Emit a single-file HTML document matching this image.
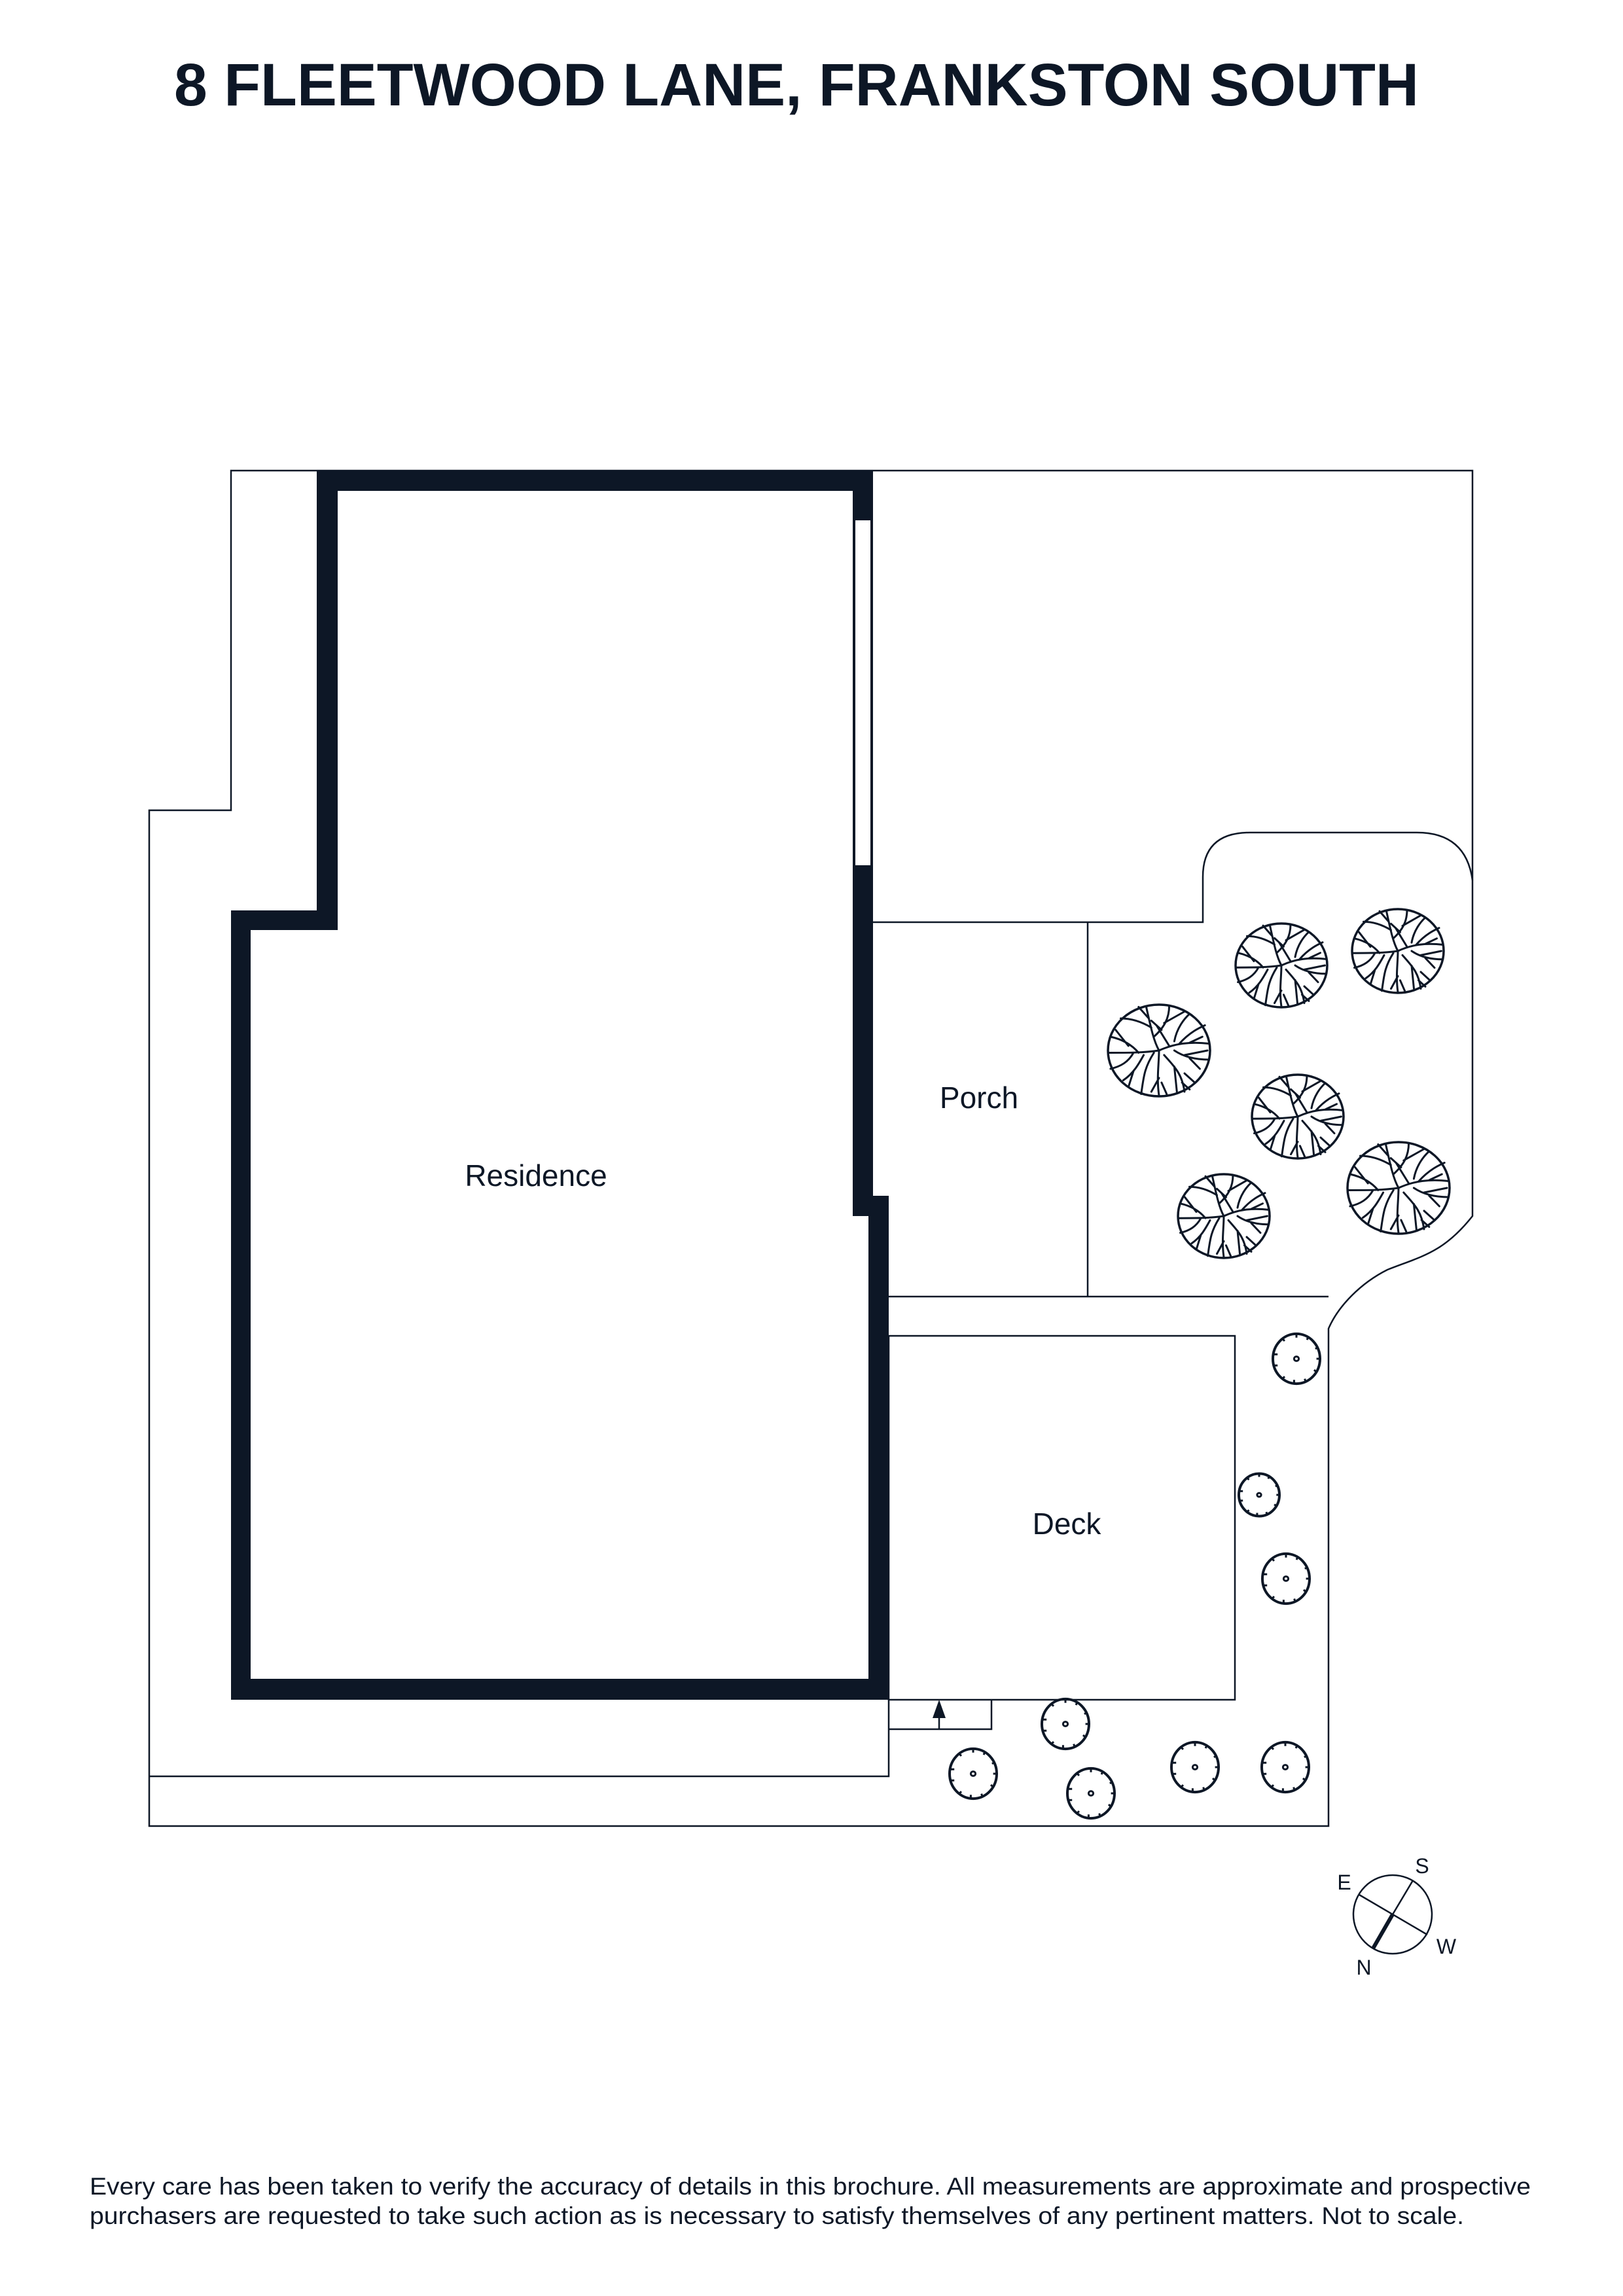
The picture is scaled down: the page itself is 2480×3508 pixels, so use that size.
<!DOCTYPE html>
<html><head><meta charset="utf-8"><style>html,body{margin:0;padding:0;background:#fff}svg{display:block}</style></head>
<body>
<svg width="2480" height="3508" viewBox="0 0 2480 3508" xmlns="http://www.w3.org/2000/svg">
<defs>
<g id="tree" fill="none" stroke="#0d1726" stroke-linecap="round">
<circle cx="0" cy="0" r="1" stroke-width="3.5" vector-effect="non-scaling-stroke"/>
<g stroke-width="3" vector-effect="non-scaling-stroke">
<path vector-effect="non-scaling-stroke" d="M0,0 C-0.1,-0.2 -0.15,-0.45 -0.25,-0.95 M-0.15,-0.5 C-0.3,-0.6 -0.5,-0.7 -0.75,-0.7 M-0.2,-0.7 L-0.4,-0.95 M-0.1,-0.3 C0.1,-0.5 0.2,-0.7 0.2,-0.98 M0.1,-0.6 L0.5,-0.85 M0.05,-0.45 L-0.15,-0.65"/>
<path vector-effect="non-scaling-stroke" d="M0,0 C0.3,-0.15 0.6,-0.2 0.98,-0.15 M0.4,-0.15 C0.6,-0.4 0.8,-0.5 0.9,-0.55 M0.6,-0.17 L0.85,-0.3 M0.3,-0.2 C0.35,-0.5 0.5,-0.7 0.6,-0.8 M0.2,-0.1 L-0.05,-0.55 M0.3,0 C0.5,0.15 0.75,0.2 0.98,0.2 M0.5,0.1 L0.95,0 M0.6,0.17 L0.8,0.4"/>
<path vector-effect="non-scaling-stroke" d="M0,0 C-0.3,0.05 -0.6,0.05 -0.98,0.05 M-0.4,0.05 C-0.55,-0.15 -0.75,-0.25 -0.95,-0.3 M-0.6,-0.1 L-0.85,-0.45 M-0.5,0.05 C-0.6,0.25 -0.75,0.35 -0.95,0.4 M-0.3,0.1 C-0.4,0.3 -0.5,0.5 -0.7,0.65 M-0.1,0.05 C-0.3,0.4 -0.3,0.6 -0.35,0.95 M-0.5,0.45 L-0.6,0.8"/>
<path vector-effect="non-scaling-stroke" d="M0,0 C0,0.3 -0.05,0.6 0,0.98 M0,0.6 L-0.15,0.9 M0.05,0.7 L0.15,0.95 M0.1,0.1 C0.3,0.35 0.45,0.5 0.5,0.9 M0.3,0.35 L0.35,0.9 M0.5,0.5 L0.7,0.7 M0.45,0.7 L0.6,0.85"/>
</g>
</g>
<g id="shrub" fill="none" stroke="#0d1726">
<ellipse cx="0" cy="0" rx="1" ry="1.12" stroke-width="4" vector-effect="non-scaling-stroke"/>
<circle cx="0" cy="0" r="0.1" stroke-width="3" vector-effect="non-scaling-stroke"/>
<path stroke-width="3" vector-effect="non-scaling-stroke" d="M0,-1.12 L0,-0.95 M0.5,-1 L0.45,-0.85 M0.9,-0.5 L0.8,-0.45 M1,0 L0.85,0 M0.85,0.6 L0.75,0.5 M0.4,1.05 L0.35,0.9 M-0.1,1.12 L-0.1,0.95 M-0.6,0.9 L-0.5,0.8 M-0.95,0.3 L-0.8,0.3 M-0.95,-0.2 L-0.8,-0.2 M-0.6,-0.9 L-0.5,-0.8"/>
</g>
</defs>

<text x="266" y="161" font-family="Liberation Sans, Arial, sans-serif" font-weight="bold" font-size="92" fill="#0d1726" textLength="1902" lengthAdjust="spacingAndGlyphs">8 FLEETWOOD LANE, FRANKSTON SOUTH</text>

<g fill="none" stroke="#0d1726" stroke-width="2.5">
<path d="M353,719 L2250,719 L2250,1858 C2205,1915 2170,1920 2120,1940 C2080,1960 2045,1995 2030,2030 L2030,2790 L228,2790 L228,1238 L353,1238 Z"/>
<path d="M228,2714 L1358,2714 L1358,2597"/>
<path d="M1334,1409 L1838,1409 L1838,1340 Q1838,1272 1910,1272 L2165,1272 Q2240,1272 2250,1345"/>
<path d="M1662,1409 L1662,1981"/>
<path d="M1358,1981 L2030,1981"/>
<rect x="1358" y="2041" width="529" height="556"/>
<path d="M1358,2642 L1515,2642 L1515,2597"/>
<path d="M1435,2642 L1435,2620"/>
</g>
<path d="M1435,2597 L1425,2625 L1445,2625 Z" fill="#0d1726"/>

<path fill="#0d1726" fill-rule="evenodd" d="M484,719 L1334,719 L1334,1827 L1358,1827 L1358,2597 L353,2597 L353,1391 L484,1391 Z M516,750 L516,1421 L383,1421 L383,2565 L1327,2565 L1327,1858 L1303,1858 L1303,750 Z"/>
<rect x="1306" y="794" width="25" height="529" fill="#fff" stroke="#0d1726" stroke-width="2"/>

<g font-family="Liberation Sans, Arial, sans-serif" font-size="46" fill="#0d1726" text-anchor="middle">
<text x="819" y="1812">Residence</text>
<text x="1496" y="1693">Porch</text>
<text x="1630" y="2344">Deck</text>
</g>

<use href="#tree" transform="translate(1771,1605) scale(78,70)"/>
<use href="#tree" transform="translate(1958,1475) scale(70,64)"/>
<use href="#tree" transform="translate(2136,1453) scale(70,64)"/>
<use href="#tree" transform="translate(1983,1706) scale(70,64)"/>
<use href="#tree" transform="translate(2137,1815) scale(78,70)"/>
<use href="#tree" transform="translate(1870,1858) scale(70,64)"/>

<use href="#shrub" transform="translate(1981,2076) scale(36,34)"/>
<use href="#shrub" transform="translate(1924,2284) scale(31,29)"/>
<use href="#shrub" transform="translate(1965,2412) scale(36,34)"/>
<use href="#shrub" transform="translate(1628,2634) scale(36,34)"/>
<use href="#shrub" transform="translate(1487,2710) scale(36,34)"/>
<use href="#shrub" transform="translate(1667,2740) scale(36,34)"/>
<use href="#shrub" transform="translate(1826,2700) scale(36,34)"/>
<use href="#shrub" transform="translate(1964,2700) scale(36,34)"/>

<g stroke="#0d1726" fill="none">
<circle cx="2128" cy="2925" r="60" stroke-width="2.5"/>
<line x1="2159" y1="2873" x2="2128" y2="2925" stroke-width="2.5"/>
<line x1="2128" y1="2925" x2="2098" y2="2977" stroke-width="6"/>
<line x1="2077" y1="2895" x2="2181" y2="2956" stroke-width="2.5"/>
</g>
<g font-family="Liberation Sans, Arial, sans-serif" font-size="32" fill="#0d1726" text-anchor="middle">
<text x="2054" y="2887">E</text>
<text x="2173" y="2862">S</text>
<text x="2210" y="2985">W</text>
<text x="2084" y="3017">N</text>
</g>

<g font-family="Liberation Sans, Arial, sans-serif" font-size="37" fill="#0d1726">
<text x="137" y="3353" textLength="2202" lengthAdjust="spacingAndGlyphs">Every care has been taken to verify the accuracy of details in this brochure. All measurements are approximate and prospective</text>
<text x="137" y="3398" textLength="2100" lengthAdjust="spacingAndGlyphs">purchasers are requested to take such action as is necessary to satisfy themselves of any pertinent matters. Not to scale.</text>
</g>
</svg>
</body></html>
